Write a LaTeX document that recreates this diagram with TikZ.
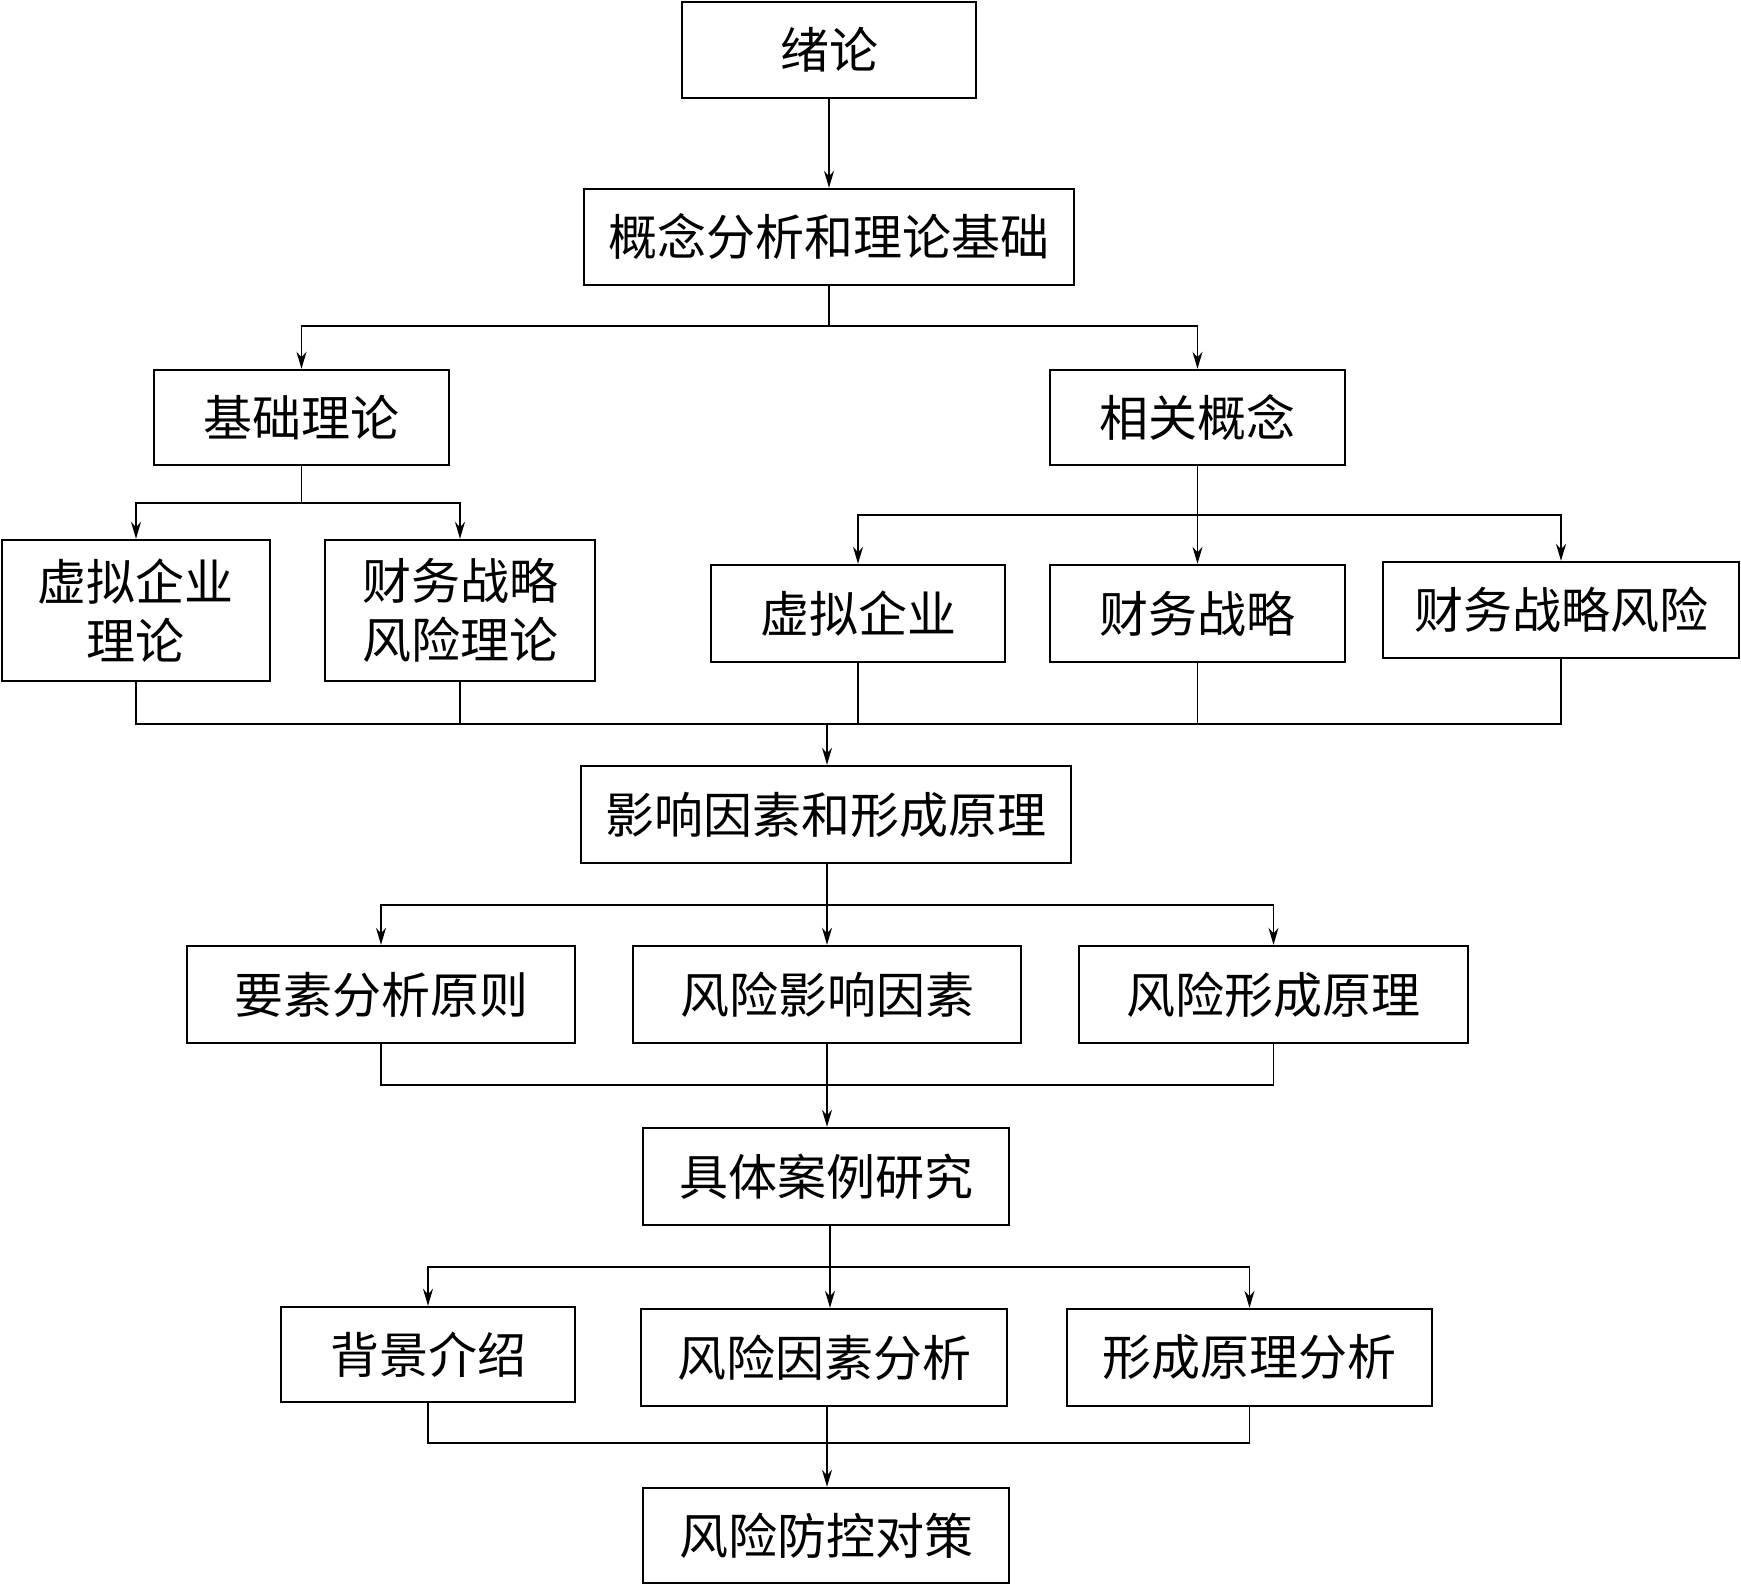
\documentclass[tikz,border=0pt]{standalone}
\usepackage{fontspec}
\newfontfamily\cjk{Noto Sans CJK SC}
\usetikzlibrary{arrows.meta,positioning}
\tikzset{
  box/.style  = {draw, line width=1.2pt, inner sep=0pt, align=center,
                 font=\cjk\fontsize{24.5}{29.5}\selectfont},
  bus/.style  = {line width=0.9pt},
  arr/.style  = {-{Stealth[length=8.5pt,width=5pt]}, line width=0.9pt},
}
\begin{document}
\begin{tikzpicture}[x=0.5pt,y=-0.5pt]
\useasboundingbox (0,0) rectangle (1741,1596);
% rows of boxes
\node[box, minimum width=147pt, minimum height=48pt]   (xulun)   at (829,50)    {绪论};
\node[box, minimum width=245pt, minimum height=48pt]   (gainian) at (829,237)   {概念分析和理论基础};
\node[box, minimum width=147.5pt, minimum height=47.5pt] (jichu)   at (301.5,417.5) {基础理论};
\node[box, minimum width=147.5pt, minimum height=47.5pt] (xiangguan) at (1197.5,417.5) {相关概念};
\node[box, minimum width=134pt, minimum height=70.5pt] (qyll)    at (136,610.5) {虚拟企业\\理论};
\node[box, minimum width=135pt, minimum height=70.5pt] (zlfxll)  at (460,610.5) {财务战略\\风险理论};
\node[box, minimum width=147pt, minimum height=48.5pt] (qiye)    at (858,613.5) {虚拟企业};
\node[box, minimum width=147.5pt, minimum height=48.5pt] (zhanlue) at (1197.5,613.5) {财务战略};
\node[box, minimum width=178pt, minimum height=48pt]   (zlfx)    at (1561,610)  {财务战略风险};
\node[box, minimum width=245pt, minimum height=48.5pt] (yingxiang) at (826,814.5) {影响因素和形成原理};
\node[box, minimum width=194pt, minimum height=48.5pt] (yaosu)   at (381,994.5) {要素分析原则};
\node[box, minimum width=194pt, minimum height=48.5pt] (yinsu)   at (827,994.5) {风险影响因素};
\node[box, minimum width=194.5pt, minimum height=48.5pt] (xingcheng) at (1273.5,994.5) {风险形成原理};
\node[box, minimum width=183pt, minimum height=48.5pt] (anli)    at (826,1176.5) {具体案例研究};
\node[box, minimum width=147pt, minimum height=47.5pt] (beijing) at (428,1354.5) {背景介绍};
\node[box, minimum width=183pt, minimum height=48.5pt] (ysfx)    at (824,1357.5) {风险因素分析};
\node[box, minimum width=182.5pt, minimum height=48.5pt] (ylfx)    at (1249.5,1357.5) {形成原理分析};
\node[box, minimum width=183pt, minimum height=47.5pt] (duice)   at (826,1535.5) {风险防控对策};
% bus lines
\coordinate (b1) at (829,326);
\coordinate (b2) at (301.5,503);
\coordinate (b3) at (1197.5,515);
\coordinate (b4) at (827,724);
\coordinate (b5) at (827,905);
\coordinate (b6) at (827,1085);
\coordinate (b7) at (830,1267);
\coordinate (b8) at (827,1443);
\draw[arr] (xulun) -- (gainian);
\draw[bus] (gainian) -- (b1);
\draw[arr] (b1) -| (jichu);
\draw[arr] (b1) -| (xiangguan);
\draw[bus] (jichu) -- (b2);
\draw[arr] (b2) -| (qyll);
\draw[arr] (b2) -| (zlfxll);
\draw[bus] (xiangguan) -- (b3);
\draw[arr] (b3) -| (qiye);
\draw[arr] (b3) -- (zhanlue);
\draw[arr] (b3) -| (zlfx);
\draw[bus] (qyll) |- (b4) -| (zlfx);
\draw[bus] (zlfxll) -- (zlfxll |- b4);
\draw[bus] (qiye) -- (qiye |- b4);
\draw[bus] (zhanlue) -- (zhanlue |- b4);
\draw[arr] (b4) -- (yingxiang.north -| b4);
\draw[bus] (yingxiang.south -| b5) -- (b5);
\draw[arr] (b5) -| (yaosu);
\draw[arr] (b5) -- (yinsu);
\draw[arr] (b5) -| (xingcheng);
\draw[bus] (yaosu) |- (b6) -| (xingcheng);
\draw[bus] (yinsu) -- (b6);
\draw[arr] (b6) -- (anli.north -| b6);
\draw[bus] (anli.south -| b7) -- (b7);
\draw[arr] (b7) -| (beijing);
\draw[arr] (b7) -- (ysfx.north -| b7);
\draw[arr] (b7) -| (ylfx);
\draw[bus] (beijing) |- (b8) -| (ylfx);
\draw[bus] (ysfx.south -| b8) -- (b8);
\draw[arr] (b8) -- (duice.north -| b8);
\end{tikzpicture}
\end{document}
